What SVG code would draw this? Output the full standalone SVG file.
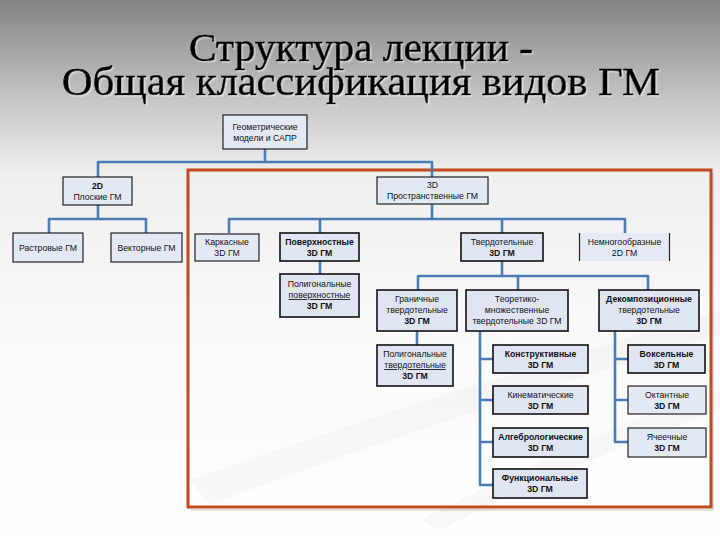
<svg xmlns="http://www.w3.org/2000/svg" width="720" height="540" viewBox="0 0 720 540">
<defs>
<linearGradient id="bg" x1="0" y1="0" x2="0" y2="1">
<stop offset="0" stop-color="#838383"/>
<stop offset="0.2" stop-color="#cbcbcb"/>
<stop offset="0.32" stop-color="#eeeeee"/>
<stop offset="0.6" stop-color="#fafafa"/>
<stop offset="1" stop-color="#ffffff"/>
</linearGradient>
<filter id="sh" x="-5%" y="-20%" width="110%" height="140%">
<feDropShadow dx="1.5" dy="1.5" stdDeviation="0.6" flood-color="#ffffff" flood-opacity="0.45"/>
</filter>
<style>
.t{font-family:"Liberation Serif","Times New Roman",serif;font-size:39px;fill:#000;stroke:#000;stroke-width:0.6;text-anchor:middle}
.b{fill:#dfe5f3;stroke:#111;stroke-width:1.6}
.bl{fill:#e3e8f5;stroke:#222;stroke-width:1.2}
.l{font-family:"Liberation Sans",Arial,sans-serif;font-size:8.7px;fill:#111;text-anchor:middle}
.bd{font-weight:bold}
.u{text-decoration:underline}
.c{fill:none;stroke:#4a7db8;stroke-width:2.6;stroke-linejoin:round}
</style>
</defs>
<rect x="0" y="0" width="720" height="540" fill="url(#bg)"/>
<path d="M190,480 C330,430 520,370 720,310 L720,335 C520,395 340,455 210,505 Z" fill="#000" fill-opacity="0.025"/>
<path d="M420,520 C520,470 620,420 720,390 L720,410 C620,445 520,490 440,530 Z" fill="#000" fill-opacity="0.025"/>
<g id="title" filter="url(#sh)">
<text class="t" x="361" y="61" textLength="344" lengthAdjust="spacingAndGlyphs">Структура лекции -</text>
<text class="t" x="361" y="95" textLength="598" lengthAdjust="spacingAndGlyphs">Общая классификация видов ГМ</text>
</g>
<g id="frame">
<path d="M713,173 V510 H191" fill="none" stroke="#000" stroke-opacity="0.12" stroke-width="2"/>
<rect x="188" y="170" width="523" height="337" fill="none" stroke="#c24a1e" stroke-width="3"/>
</g>
<g id="connectors">
<path class="c" d="M265,149 V162 M98,177 V162 H432 V177"/>
<path class="c" d="M98,205 V219 M49,233 V219 H146 V233"/>
<path class="c" d="M432,204 V219 M229,233 V219 H625 V233 M320,219 V233 M502,219 V233"/>
<path class="c" d="M320,261 V274"/>
<path class="c" d="M502,261 V276 M418,290 V276 H648 V290 M518,276 V290"/>
<path class="c" d="M417,331 V345"/>
<path class="c" d="M480,331 V485 H493 M480,359 H493 M480,400 H493 M480,442 H493"/>
<path class="c" d="M615,331 V442 H628 M615,359 H628 M615,400 H628"/>
</g>
<g id="n-root"><rect class="bl" x="223" y="115" width="84" height="34"/>
<text class="l" x="265" y="130">Геометрические</text><text class="l" x="265" y="141">модели и САПР</text></g>
<g id="n-2d"><rect class="bl" x="63" y="177" width="69" height="28"/>
<text class="l bd" x="97.5" y="189">2D</text><text class="l" x="97.5" y="200">Плоские ГМ</text></g>
<g id="n-3d"><rect class="bl" x="377" y="177" width="111" height="27"/>
<text class="l" x="432.5" y="188">3D</text><text class="l" x="432.5" y="199">Пространственные ГМ</text></g>
<g id="n-raster"><rect class="bl" x="13" y="233" width="70" height="29"/>
<text class="l" x="48" y="251">Растровые ГМ</text></g>
<g id="n-vector"><rect class="bl" x="111" y="233" width="71" height="29"/>
<text class="l" x="146.5" y="251">Векторные ГМ</text></g>
<g id="n-wire"><rect class="bl" x="195" y="234" width="64" height="27"/>
<text class="l" x="227" y="245">Каркасные</text><text class="l" x="227" y="256">3D ГМ</text></g>
<g id="n-surf"><rect class="b" x="280" y="233" width="79" height="28"/>
<text class="l bd" x="319.5" y="245">Поверхностные</text><text class="l bd" x="319.5" y="256">3D ГМ</text></g>
<g id="n-polysurf"><rect class="b" x="280" y="274" width="79" height="43"/>
<text class="l" x="319.5" y="287">Полигональные</text><text class="l u" x="319.5" y="298">поверхностные</text><text class="l bd" x="319.5" y="309">3D ГМ</text></g>
<g id="n-solid"><rect class="b" x="461" y="233" width="82" height="28"/>
<text class="l" x="502" y="245">Твердотельные</text><text class="l bd" x="502" y="256">3D ГМ</text></g>
<g id="n-nonmanifold"><rect x="579" y="233" width="91" height="28" fill="#e6eaf5"/>
<path d="M579.5,233 V261 M669.5,233 V261" stroke="#222" stroke-width="1.2"/>
<text class="l" x="624.5" y="245">Немногообразные</text><text class="l" x="624.5" y="256">2D ГМ</text></g>
<g id="n-brep"><rect class="b" x="377" y="290" width="80" height="41"/>
<text class="l" x="417" y="302">Граничные</text><text class="l" x="417" y="313">твердотельные</text><text class="l bd" x="417" y="324">3D ГМ</text></g>
<g id="n-setth"><rect class="b" x="466" y="290" width="102" height="41"/>
<text class="l" x="517" y="302">Теоретико-</text><text class="l" x="517" y="313">множественные</text><text class="l" x="517" y="324">твердотельные 3D ГМ</text></g>
<g id="n-decomp"><rect class="b" x="599" y="290" width="100" height="41"/>
<text class="l bd" x="649" y="302">Декомпозиционные</text><text class="l" x="649" y="313">твердотельные</text><text class="l bd" x="649" y="324">3D ГМ</text></g>
<g id="n-polysolid"><rect class="b" x="377" y="345" width="76" height="41"/>
<text class="l" x="415" y="357">Полигональные</text><text class="l u" x="415" y="368">твердотельные</text><text class="l bd" x="415" y="379">3D ГМ</text></g>
<g id="n-constr"><rect class="b" x="493" y="345" width="95" height="28"/>
<text class="l bd" x="540.5" y="357">Конструктивные</text><text class="l bd" x="540.5" y="368">3D ГМ</text></g>
<g id="n-kinem"><rect class="b" x="493" y="386" width="95" height="28"/>
<text class="l" x="540.5" y="398">Кинематические</text><text class="l bd" x="540.5" y="409">3D ГМ</text></g>
<g id="n-alg"><rect class="b" x="493" y="428" width="95" height="29"/>
<text class="l bd" x="540.5" y="440">Алгебрологические</text><text class="l bd" x="540.5" y="451">3D ГМ</text></g>
<g id="n-func"><rect class="b" x="493" y="469" width="94" height="29"/>
<text class="l bd" x="540" y="481">Функциональные</text><text class="l bd" x="540" y="492">3D ГМ</text></g>
<g id="n-voxel"><rect class="b" x="628" y="345" width="77" height="28"/>
<text class="l bd" x="666.5" y="357">Воксельные</text><text class="l bd" x="666.5" y="368">3D ГМ</text></g>
<g id="n-octant"><rect class="bl" x="628" y="386" width="78" height="28"/>
<text class="l" x="667" y="398">Октантные</text><text class="l bd" x="667" y="409">3D ГМ</text></g>
<g id="n-cell"><rect class="bl" x="628" y="428" width="78" height="29"/>
<text class="l" x="667" y="440">Ячеечные</text><text class="l bd" x="667" y="451">3D ГМ</text></g>
</svg>
